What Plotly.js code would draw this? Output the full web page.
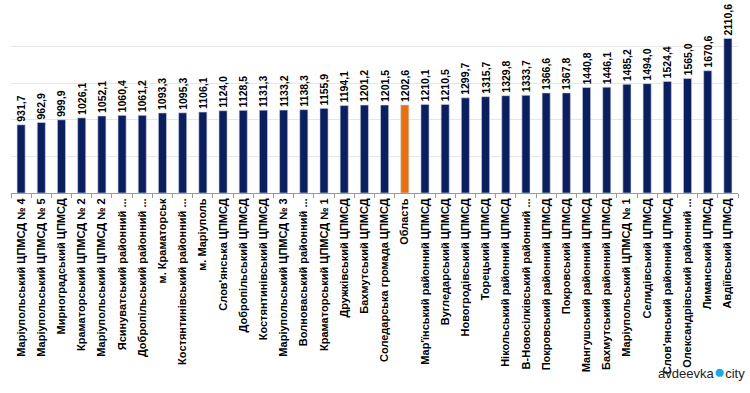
<!DOCTYPE html>
<html>
<head>
<meta charset="utf-8">
<script src="https://cdn.plot.ly/plotly-3.0.1.min.js"></script>
<style>html,body{margin:0;padding:0;background:#fff;}#chart{width:750px;height:393px;}</style>
</head>
<body>
<div id="chart"></div>
<script>
const categories = [
  "Маріупольський ЦПМСД № 4",
  "Маріупольський ЦПМСД № 5",
  "Мирноградський ЦПМСД",
  "Краматорський ЦПМСД № 2",
  "Маріупольський ЦПМСД № 2",
  "Ясинуватський районний ...",
  "Добропільський районний ...",
  "м. Краматорськ",
  "Костянтинівський районний ...",
  "м. Маріуполь",
  "Слов'янська ЦПМСД",
  "Добропільський ЦПМСД",
  "Костянтинівський ЦПМСД",
  "Маріупольський ЦПМСД № 3",
  "Волноваський районний ...",
  "Краматорський ЦПМСД № 1",
  "Дружківський ЦПМСД",
  "Бахмутський ЦПМСД",
  "Соледарська громада ЦПМСД",
  "Область",
  "Мар'їнський районний ЦПМСД",
  "Вугледарський ЦПМСД",
  "Новогродівський ЦПМСД",
  "Торецький ЦПМСД",
  "Нікольський районний ЦПМСД",
  "В-Новосілківський районний ...",
  "Покровський районний ЦПМСД",
  "Покровський ЦПМСД",
  "Мангушський районний ЦПМСД",
  "Бахмутський районний ЦПМСД",
  "Маріупольський ЦПМСД № 1",
  "Селидівський ЦПМСД",
  "Слов'янський районний ЦПМСД",
  "Олександрівський районний ...",
  "Лиманський ЦПМСД",
  "Авдіївський ЦПМСД"
];
const values = [931.7, 962.9, 999.9, 1026.1, 1052.1, 1060.4, 1061.2, 1093.3, 1095.3, 1106.1,
  1124.0, 1128.5, 1131.3, 1133.2, 1138.3, 1155.9, 1194.1, 1201.2, 1201.5, 1202.6,
  1210.1, 1210.5, 1299.7, 1315.7, 1329.8, 1333.7, 1366.6, 1367.8, 1440.8, 1446.1,
  1485.2, 1494.0, 1524.4, 1565.0, 1670.6, 2110.6];
const highlight = "Область";

const navy = "#0b1f5e";
const orange = "#e8700f";
const colors = categories.map(c => c === highlight ? orange : navy);

const trace = {
  type: "bar",
  x: categories,
  y: values,
  marker: {color: colors, line: {color: "#c9d3ea", width: 0.6}},
  text: values.map(v => v.toFixed(1).replace(".", ",")),
  textposition: "outside",
  textangle: -90,
  constraintext: "none",
  textfont: {family: "Liberation Sans, Arial, sans-serif", size: 10.5, color: "#000", weight: "bold"},
  cliponaxis: false,
  hoverinfo: "none"
};

const layout = {
  width: 750, height: 393,
  margin: {l: 11, r: 12, t: 10, b: 200},
  paper_bgcolor: "#fff",
  plot_bgcolor: "#fff",
  bargap: 0.6,
  showlegend: false,
  xaxis: {
    type: "category",
    tickangle: -90,
    ticks: "outside",
    tickson: "boundaries",
    ticklen: 4,
    tickcolor: "#9a9a9a",
    showline: true,
    linecolor: "#9a9a9a",
    linewidth: 1,
    showgrid: false,
    zeroline: false,
    automargin: false,
    tickfont: {family: "Liberation Sans, Arial, sans-serif", size: 11, color: "#000", weight: "bold"},
    fixedrange: true
  },
  yaxis: {
    range: [0, 2500],
    dtick: 500,
    showgrid: true,
    gridcolor: "#e6e6e6",
    gridwidth: 1,
    showticklabels: false,
    zeroline: false,
    ticks: "",
    fixedrange: true
  },
  annotations: [{
    xref: "paper", yref: "paper",
    x: 1.012, y: -0.975,
    xanchor: "right", yanchor: "middle",
    text: "avdeevka<span style=\"color:#1aa9ee;font-size:19px\">●</span>city",
    showarrow: false,
    font: {family: "Liberation Sans, Arial, sans-serif", size: 13, color: "#222"}
  }]
};

Plotly.newPlot("chart", [trace], layout, {displayModeBar: false, staticPlot: true});
</script>
</body>
</html>
